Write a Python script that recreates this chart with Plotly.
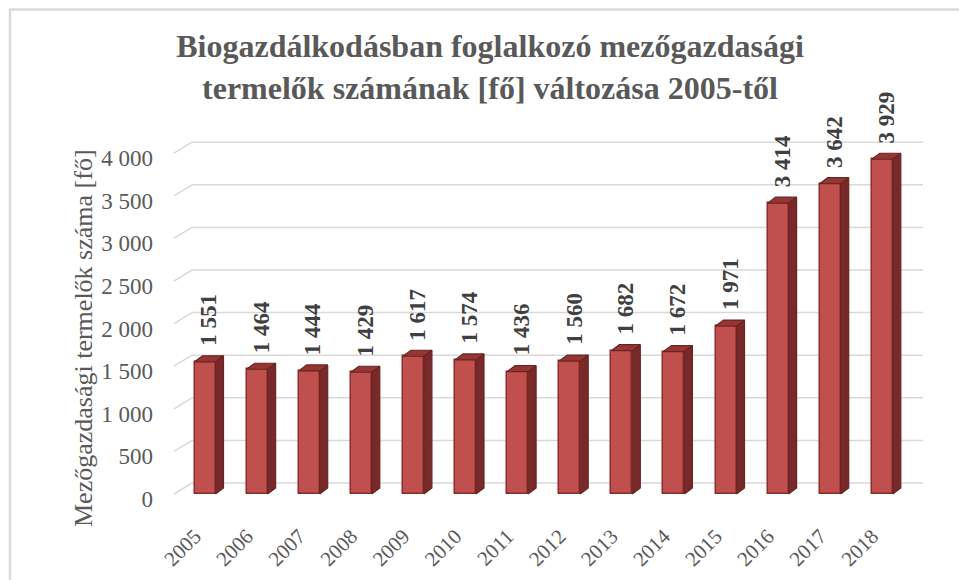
import plotly.graph_objects as go

# ---- data ----
years = ["2005", "2006", "2007", "2008", "2009", "2010", "2011",
         "2012", "2013", "2014", "2015", "2016", "2017", "2018"]
farmers = [1551, 1464, 1444, 1429, 1617, 1574, 1436,
           1560, 1682, 1672, 1971, 3414, 3642, 3929]
y_ticks = [0, 500, 1000, 1500, 2000, 2500, 3000, 3500, 4000]

title_text = ("<b>Biogazdálkodásban foglalkozó mezőgazdasági<br>"
              "termelők számának [fő] változása 2005-től</b>")
y_title = "Mezőgazdasági termelők száma [fő]"


def fmt(v):
    return f"{v:,}".replace(",", " ")


# ---- geometry (pixels -> data) ----
W, H = 959, 580
ML, MR, MT, MB = 168, 30, 119, 69
PW, PH = W - ML - MR, H - MT - MB
px_per_cat = 52.1          # horizontal spacing of categories
first_cat_px = 205         # pixel x of first category
px_per_unit = 0.0852       # vertical pixels per person
zero_px = 494              # pixel y of value 0 (front)

x0 = -(first_cat_px - ML) / px_per_cat
x1 = x0 + PW / px_per_cat
ymin = -((H - MB) - zero_px) / px_per_unit
ymax = ymin + PH / px_per_unit


def dx(px):
    return px / px_per_cat


def dy(px):
    return px / px_per_unit


def paper_x(px):
    return (px - ML) / PW


def paper_y(py):
    return ((H - MB) - py) / PH


idx = list(range(len(years)))
bar_w = dx(21)
ddx, ddy = dx(8), dy(6)

fig = go.Figure()

# back-wall gridlines with perspective stubs (as shapes below the bars)
shapes = []
g_front, g_back, g_end = dx(174 - first_cat_px), dx(192 - first_cat_px), dx(923 - first_cat_px)
g_dy = dy(11)
grid_line = dict(color="#d9d9d9", width=1.5)
for v in y_ticks:
    shapes.append(dict(type="line", xref="x", yref="y", layer="below",
                       x0=g_front, y0=v, x1=g_back, y1=v + g_dy, line=grid_line))
    shapes.append(dict(type="line", xref="x", yref="y", layer="below",
                       x0=g_back, y0=v + g_dy, x1=g_end, y1=v + g_dy, line=grid_line))

# front faces
fig.add_trace(go.Bar(x=idx, y=farmers, width=bar_w,
                     marker=dict(color="#c0504d",
                                 line=dict(color="#8a2d2b", width=1.5)),
                     showlegend=False))

# side faces
sx, sy = [], []
for i, v in zip(idx, farmers):
    xr = i + bar_w / 2
    sx += [xr, xr + ddx, xr + ddx, xr, xr, None]
    sy += [0, ddy, v + ddy, v, 0, None]
fig.add_trace(go.Scatter(x=sx, y=sy, mode="lines", fill="toself",
                         fillcolor="#772a29",
                         line=dict(color="#6a2423", width=1.2),
                         hoverinfo="skip", showlegend=False))

# top faces
tx, ty = [], []
for i, v in zip(idx, farmers):
    xl, xr = i - bar_w / 2, i + bar_w / 2
    tx += [xl, xl + ddx, xr + ddx, xr, xl, None]
    ty += [v, v + ddy, v + ddy, v, v, None]
fig.add_trace(go.Scatter(x=tx, y=ty, mode="lines", fill="toself",
                         fillcolor="#963633",
                         line=dict(color="#6a2423", width=1.2),
                         hoverinfo="skip", showlegend=False))

annotations = []
for i, v in zip(idx, farmers):
    annotations.append(dict(
        x=i + ddx / 2, y=v, xref="x", yref="y", text="<b>" + fmt(v) + "</b>",
        showarrow=False, textangle=-90, xanchor="center", yanchor="bottom",
        yshift=14,
        font=dict(family="Liberation Serif", size=23, color="#404040"),
    ))
annotations.append(dict(
    x=paper_x(83), y=paper_y(338), xref="paper", yref="paper",
    text=y_title, showarrow=False, textangle=-90,
    xanchor="center", yanchor="middle",
    font=dict(family="Liberation Serif", size=26, color="#595959"),
))

shapes.append(dict(type="rect", xref="paper", yref="paper",
                   x0=paper_x(10), y0=paper_y(600), x1=paper_x(990), y1=paper_y(9.5),
                   line=dict(color="#dadada", width=2.5), fillcolor="rgba(0,0,0,0)",
                   layer="below"))

fig.update_layout(
    width=W, height=H, autosize=False,
    margin=dict(l=ML, r=MR, t=MT, b=MB),
    paper_bgcolor="white", plot_bgcolor="white",
    title=dict(text=title_text, x=490 / W, xanchor="center", xref="container",
               y=1 - 57 / H, yanchor="top", yref="container",
               font=dict(family="Liberation Serif", size=32, color="#595959")),
    xaxis=dict(range=[x0, x1], tickvals=idx, ticktext=years, tickangle=-45,
               showgrid=False, zeroline=False, showline=False, ticks="",
               automargin=False, ticklabelstandoff=8, ticklabelshift=-10,
               tickfont=dict(family="Liberation Serif", size=21, color="#595959")),
    yaxis=dict(range=[ymin, ymax], tickvals=y_ticks,
               ticktext=[fmt(v) for v in y_ticks],
               showgrid=False, zeroline=False, showline=False, ticks="",
               automargin=False, ticklabelstandoff=14, ticklabelshift=5,
               tickfont=dict(family="Liberation Serif", size=23, color="#595959")),
    annotations=annotations,
    shapes=shapes,
    bargap=0,
)

fig.write_html("out.html", config={"displayModeBar": False},
               post_script="document.body.style.margin='0px';")
